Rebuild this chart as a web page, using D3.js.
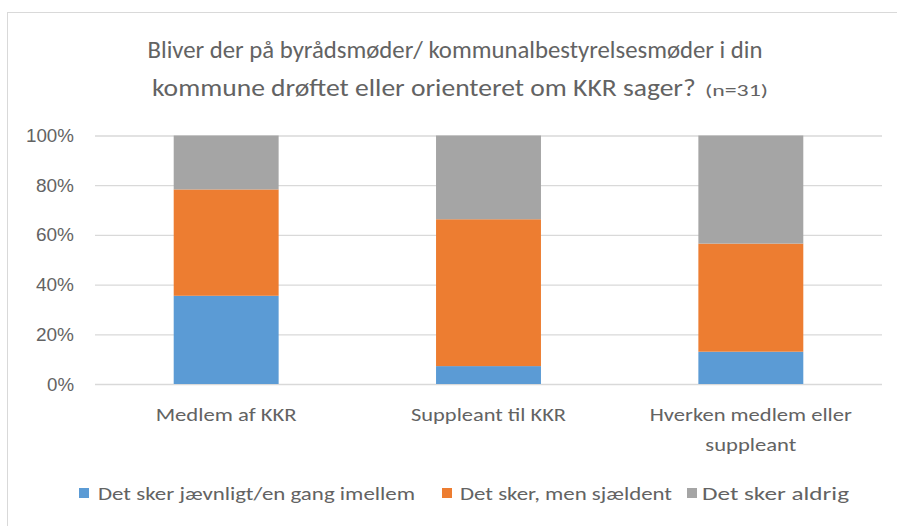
<!DOCTYPE html>
<html>
<head>
<meta charset="utf-8">
<script src="https://cdn.jsdelivr.net/npm/d3@7"></script>
<style>
  html, body { margin: 0; padding: 0; background: #fff; }
  svg { display: block; font-family: Carlito, Calibri, "Open Sans", "DejaVu Sans", sans-serif; }
</style>
</head>
<body>
<svg id="chart" width="897" height="526"></svg>
<script>
// ---- data ----
const categories = ["Medlem af KKR", "Suppleant til KKR", "Hverken medlem eller suppleant"];
const categoryLines = [["Medlem af KKR"], ["Suppleant til KKR"], ["Hverken medlem eller", "suppleant"]];
const seriesNames = ["Det sker jævnligt/en gang imellem", "Det sker, men sjældent", "Det sker aldrig"];
const seriesJaevnligt = [35.5, 7.2, 13.0];
const seriesSjaeldent = [42.8, 59.1, 43.5];
const seriesAldrig = [21.7, 33.7, 43.5];
const yTicks = [0, 20, 40, 60, 80, 100];
const titleLine1 = "Bliver der på byrådsmøder/ kommunalbestyrelsesmøder i din";
const titleLine2 = "kommune drøftet eller orienteret om KKR sager? ";
const titleNote = "(n=31)";

const colors = ["#5b9bd5", "#ed7d31", "#a5a5a5"];
const textColor = "#636363";

const svg = d3.select("#chart");

// chart area border
svg.append("rect")
  .attr("x", 7.5).attr("y", 12.5)
  .attr("width", 900).attr("height", 530)
  .attr("fill", "#fff").attr("stroke", "#d9d9d9").attr("stroke-width", 1);

// title
svg.append("text")
  .attr("x", 455).attr("y", 58)
  .attr("text-anchor", "middle")
  .attr("font-size", 24).attr("fill", textColor)
  .attr("textLength", 615).attr("lengthAdjust", "spacingAndGlyphs")
  .text(titleLine1);
const t2 = svg.append("text")
  .attr("x", 152).attr("y", 96)
  .attr("font-size", 24).attr("fill", textColor);
t2.append("tspan").attr("textLength", 550).attr("lengthAdjust", "spacingAndGlyphs").text(titleLine2);
t2.append("tspan").attr("x", 705).attr("font-size", 17).attr("textLength", 63).attr("lengthAdjust", "spacingAndGlyphs").text(titleNote);

// scales
const x = d3.scaleBand().domain(categories).range([95, 882]).paddingInner(0.6).paddingOuter(0.3);
const y = d3.scaleLinear().domain([0, 100]).range([384, 135.5]);

// gridlines
const grid = svg.append("g").attr("class", "grid")
  .attr("transform", "translate(95,0)")
  .call(d3.axisLeft(y).tickValues(yTicks).tickSize(-787).tickFormat(""));
grid.select(".domain").remove();
grid.selectAll(".tick line").attr("stroke", "#d9d9d9").attr("stroke-width", 1.3);

// y axis labels
const yAxis = svg.append("g")
  .attr("transform", "translate(77,0)")
  .call(d3.axisLeft(y).tickValues(yTicks).tickSize(0).tickPadding(3).tickFormat(d => d + "%"));
yAxis.select(".domain").remove();
yAxis.selectAll("text")
  .attr("font-size", 19).attr("fill", textColor)
  .attr("textLength", d => d === 100 ? 48 : (d === 0 ? 27 : 38))
  .attr("lengthAdjust", "spacingAndGlyphs");

// stacked bars
const table = categories.map((c, i) => ({
  category: c,
  s0: seriesJaevnligt[i], s1: seriesSjaeldent[i], s2: seriesAldrig[i]
}));
const stack = d3.stack().keys(["s0", "s1", "s2"]);
const layers = stack(table);

svg.append("g").selectAll("g")
  .data(layers).join("g")
  .attr("fill", (d, i) => colors[i])
  .selectAll("rect")
  .data(d => d).join("rect")
  .attr("x", d => x(d.data.category))
  .attr("width", x.bandwidth())
  .attr("y", d => y(d[1]))
  .attr("height", d => y(d[0]) - y(d[1]));

// category labels
const catWidths = [[141], [155], [202, 91]];
const catG = svg.append("g");
categories.forEach((c, i) => {
  const cx = x(c) + x.bandwidth() / 2;
  categoryLines[i].forEach((line, j) => {
    catG.append("text")
      .attr("x", cx).attr("y", 421 + j * 30)
      .attr("text-anchor", "middle")
      .attr("font-size", 18).attr("fill", textColor)
      .attr("textLength", catWidths[i][j]).attr("lengthAdjust", "spacingAndGlyphs")
      .text(line);
  });
});

// legend
const legendPos = [{sq: 79, tx: 98, w: 317}, {sq: 442, tx: 460, w: 212}, {sq: 687, tx: 702, w: 147}];
const legend = svg.append("g");
seriesNames.forEach((name, i) => {
  legend.append("rect")
    .attr("x", legendPos[i].sq).attr("y", 488)
    .attr("width", 10).attr("height", 10)
    .attr("fill", colors[i]);
  legend.append("text")
    .attr("x", legendPos[i].tx).attr("y", 500)
    .attr("font-size", 18).attr("fill", textColor)
    .attr("textLength", legendPos[i].w).attr("lengthAdjust", "spacingAndGlyphs")
    .text(name);
});
</script>
</body>
</html>
